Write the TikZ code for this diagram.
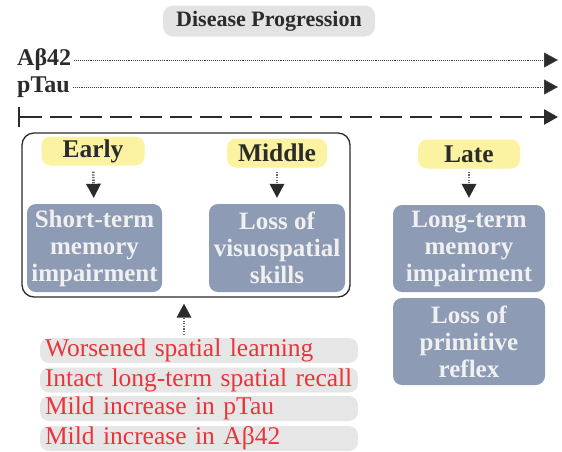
\documentclass[tikz,border=0pt]{standalone}
\usepackage{fontspec}
\setmainfont{Liberation Serif}
\usetikzlibrary{arrows.meta}
\definecolor{stagefill}{HTML}{FBF3A2}
\definecolor{symfill}{HTML}{8D9BB5}
\definecolor{listfill}{HTML}{E6E6E6}
\definecolor{titlefill}{HTML}{E3E3E3}
\definecolor{listred}{HTML}{E8353B}
\definecolor{inkdark}{HTML}{2B2B2B}
\begin{document}
\begin{tikzpicture}[x=1pt,y=-1pt,
  titlebox/.style={fill=titlefill,rounded corners=10pt,minimum width=212pt,minimum height=31pt,inner sep=0pt,font=\fontsize{22}{26}\selectfont\bfseries,text=inkdark},
  marker/.style={inner sep=0pt,font=\fontsize{24}{26}\selectfont\bfseries,text=inkdark},
  dotline/.style={line width=0.8pt,dash pattern=on 0.8pt off 1.1pt,draw=black!75,-{Triangle[length=14pt,width=15pt,fill=inkdark]}},
  timeline/.style={line width=2.6pt,draw=inkdark,dash pattern=on 22pt off 8pt,{Bar[width=20pt,line width=2.4pt]}-{Triangle[length=14pt,width=15pt]}},
  groupbox/.style={draw=inkdark,line width=1.3pt,rounded corners=12pt,minimum width=328pt,minimum height=164pt,inner sep=0pt},
  stage/.style={fill=stagefill,rounded corners=9pt,minimum height=29pt,inner sep=0pt,font=\fontsize{25.5}{27}\selectfont\bfseries,text=inkdark},
  symbox/.style={fill=symfill,rounded corners=9pt,inner sep=0pt,align=center,font=\fontsize{25}{27}\selectfont\bfseries,text=white!94!black},
  stagearrow/.style={draw=black!60,line width=2.6pt,dash pattern=on 1.3pt off 1.3pt,-{Triangle[length=14pt,width=15pt,fill=inkdark,line width=0pt]}},
  listbox/.style={fill=listfill,rounded corners=9pt,minimum height=25pt,inner ysep=0pt,inner xsep=5pt,text width=308pt,align=left,font=\fontsize{25.5}{26}\selectfont,text=listred}
]
\useasboundingbox (0,0) rectangle (562,451);

\node[titlebox] (title) at (269,21) {Disease Progression};

\node[marker,anchor=west] (ab) at (17,60) {Aβ42};
\coordinate (abend) at (558,60);
\draw[dotline] ([xshift=3pt]ab.east) -- (abend);

\node[marker,anchor=west] (pt) at (17,87) {pTau};
\coordinate (ptend) at (558,87);
\draw[dotline] ([xshift=3pt]pt.east) -- (ptend);

\coordinate (t0) at (18,117);
\coordinate (t1) at (558,117);
\draw[timeline] (t0) -- (t1);

\node[groupbox] (grp) at (186,215) {};

\node[stage,minimum width=103pt] (early) at (93,151) {Early};
\node[stage,minimum width=100pt] (middle) at (277,153) {Middle};
\node[stage,minimum width=102pt] (late) at (469,154) {Late};

\node[symbox,minimum width=135pt,minimum height=88pt] (stm) at (94.5,248) {Short-term\\memory\\impairment};
\node[symbox,minimum width=136pt,minimum height=88pt] (vis) at (277,248) {Loss of\\visuospatial\\skills};
\node[symbox,minimum width=152pt,minimum height=87pt] (ltm) at (469,248.5) {Long-term\\memory\\impairment};
\node[symbox,minimum width=152pt,minimum height=87pt] (prim) at (469,341.5) {Loss of\\primitive\\reflex};

\draw[stagearrow,shorten <=6pt,shorten >=6pt] (early) -- (stm);
\draw[stagearrow,shorten <=4pt,shorten >=6pt] (middle) -- (vis);
\draw[stagearrow,shorten <=3pt,shorten >=7pt] (late) -- (ltm);

\node[listbox] (l1) at (199,350.5) {Worsened spatial learning};
\node[listbox] (l2) at (199,380) {Intact long-term spatial recall};
\node[listbox] (l3) at (199,408.5) {Mild increase in pTau};
\node[listbox] (l4) at (199,438.5) {Mild increase in Aβ42};

\draw[stagearrow,shorten <=3pt,shorten >=6pt] (l1.north -| 184,0) -- (grp.south -| 184,0);
\end{tikzpicture}
\end{document}
